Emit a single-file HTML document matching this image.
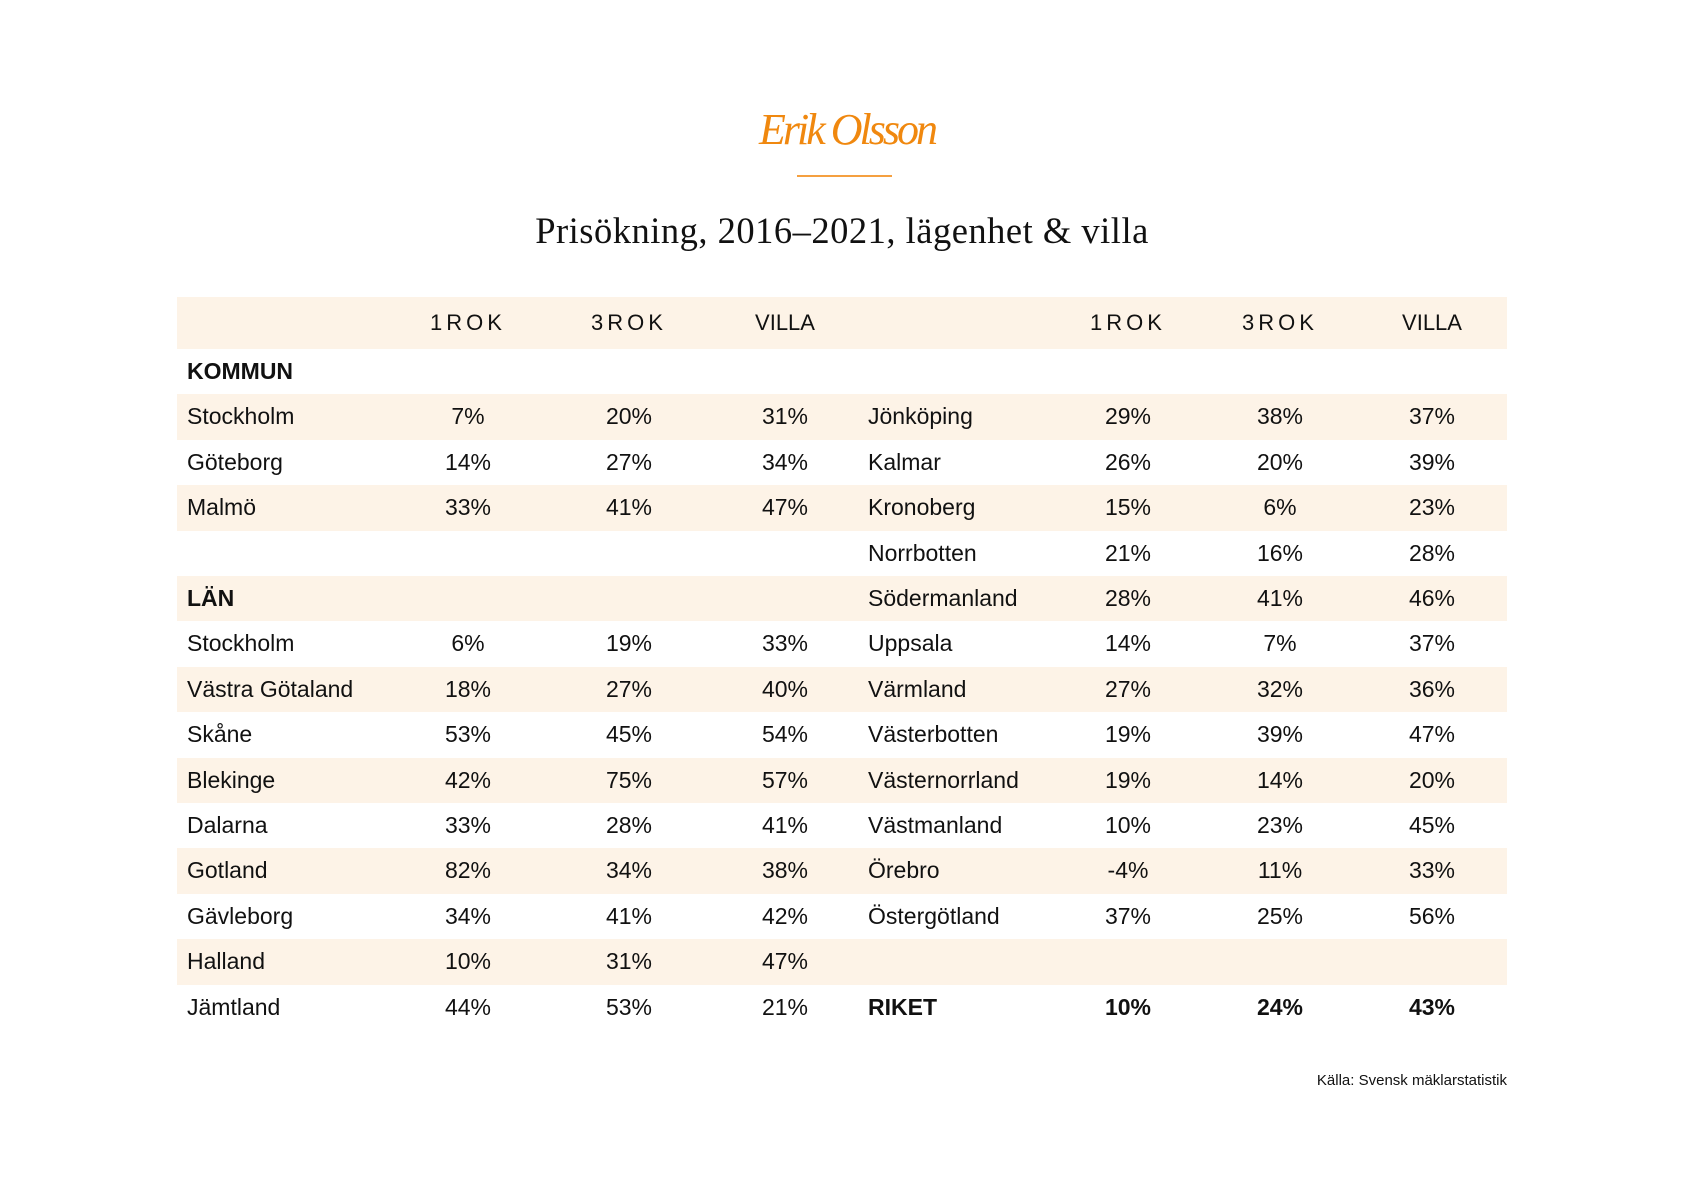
<!DOCTYPE html>
<html><head><meta charset="utf-8"><style>
body{margin:0;width:1684px;height:1191px;background:#fff;position:relative;overflow:hidden;font-family:"Liberation Sans",sans-serif;color:#111}
.r{position:absolute;left:177px;width:1330px;height:45.4px}
.s{background:#fdf3e7}
.t{position:absolute;font-size:23px;line-height:45.4px;white-space:nowrap}
.c{transform:translateX(-50%)}
.b{font-weight:bold}
.h{font-size:22px;letter-spacing:4px;line-height:52px}
</style></head><body>
<div style="position:absolute;left:752px;top:104px;width:190px;text-align:center;font-family:'Liberation Serif',serif;font-style:italic;font-size:44px;color:#f0880f;letter-spacing:-3px">Erik Olsson</div>
<div style="position:absolute;left:797px;top:175px;width:95px;height:2px;background:#f5a040"></div>
<div style="position:absolute;left:0;width:1684px;top:209px;text-align:center;font-family:'Liberation Serif',serif;font-size:36.5px;letter-spacing:0.5px">Prisökning, 2016–2021, lägenhet &amp; villa</div>
<div class="r s" style="top:297px;height:52px">
<span class="t h c" style="left:291px">1ROK</span><span class="t h c" style="left:452px">3ROK</span><span class="t h c" style="left:608px;letter-spacing:0">VILLA</span>
<span class="t h c" style="left:951px">1ROK</span><span class="t h c" style="left:1103px">3ROK</span><span class="t h c" style="left:1255px;letter-spacing:0">VILLA</span>
</div>
<div id="rows"></div>
<div style="position:absolute;right:177px;top:1072px;font-size:15px">Källa: Svensk mäklarstatistik</div>
<script>
var L=[["KOMMUN","","","",1],["Stockholm","7%","20%","31%"],["Göteborg","14%","27%","34%"],["Malmö","33%","41%","47%"],["","","",""],["LÄN","","","",1],["Stockholm","6%","19%","33%"],["Västra Götaland","18%","27%","40%"],["Skåne","53%","45%","54%"],["Blekinge","42%","75%","57%"],["Dalarna","33%","28%","41%"],["Gotland","82%","34%","38%"],["Gävleborg","34%","41%","42%"],["Halland","10%","31%","47%"],["Jämtland","44%","53%","21%"]];
var R=[["","","",""],["Jönköping","29%","38%","37%"],["Kalmar","26%","20%","39%"],["Kronoberg","15%","6%","23%"],["Norrbotten","21%","16%","28%"],["Södermanland","28%","41%","46%"],["Uppsala","14%","7%","37%"],["Värmland","27%","32%","36%"],["Västerbotten","19%","39%","47%"],["Västernorrland","19%","14%","20%"],["Västmanland","10%","23%","45%"],["Örebro","-4%","11%","33%"],["Östergötland","37%","25%","56%"],["","","",""],["RIKET","10%","24%","43%",1]];
var h="";
for(var i=0;i<15;i++){var a=L[i],b=R[i];h+='<div class="r'+(i%2?' s':'')+'" style="top:'+(349+i*45.4)+'px">';
h+='<span class="t'+(a[4]?' b':'')+'" style="left:10px">'+a[0]+'</span>';
[291,452,608].forEach(function(x,k){h+='<span class="t c" style="left:'+x+'px">'+a[k+1]+'</span>'});
var bb=b[4]?' b':'';
h+='<span class="t'+bb+'" style="left:691px">'+b[0]+'</span>';
[951,1103,1255].forEach(function(x,k){h+='<span class="t c'+bb+'" style="left:'+x+'px">'+b[k+1]+'</span>'});
h+='</div>';}
document.getElementById("rows").innerHTML=h;
</script>
</body></html>
